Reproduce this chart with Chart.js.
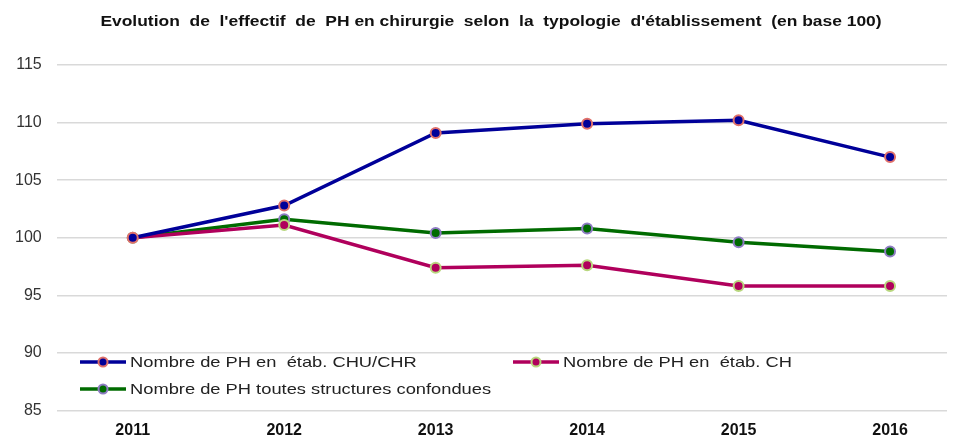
<!DOCTYPE html>
<html>
<head>
<meta charset="utf-8">
<script src="https://cdn.jsdelivr.net/npm/chart.js@4.4.0/dist/chart.umd.min.js"></script>
<style>
  html, body { margin: 0; padding: 0; background: #fff; }
  #wrap { width: 954px; height: 435px; position: relative; }
</style>
</head>
<body>
<div id="wrap"><canvas id="graficoPH"></canvas></div>
<script>
// données (base 100 en 2011)
const annees   = [2011, 2012, 2013, 2014, 2015, 2016];
const chuChr   = [100, 102.8, 109.1, 109.9, 110.2, 107.0];
const ch       = [100, 101.1, 97.4, 97.6, 95.8, 95.8];
const toutes   = [100, 101.6, 100.4, 100.8, 99.6, 98.8];
const yTicks   = [85, 90, 95, 100, 105, 110, 115];

const titre = "Evolution  de  l'effectif  de  PH en chirurgie  selon  la  typologie  d'établissement  (en base 100)";
const POLICE = '"Liberation Sans", Arial, sans-serif';
const ETIRE = 1.22; // le texte du modèle est étiré horizontalement

function serie(vals) {
    return vals.map((v, i) => ({ x: annees[i], y: v }));
}

// titre + légende dessinés à la main (texte étiré)
const textesEtires = {
    id: 'textesEtires',
    afterDatasetsDraw(chart) {
        const ctx = chart.ctx;

        // titre
        ctx.save();
        ctx.font = 'bold 14px ' + POLICE;
        ctx.fillStyle = '#111';
        ctx.textBaseline = 'middle';
        const w = ctx.measureText(titre).width * 1.245;
        ctx.translate(491 - w / 2, 22);
        ctx.scale(1.245, 1);
        ctx.fillText(titre, 0, 0);
        ctx.restore();

        // légende
        const pos = [
            { x: 80,  y: 362 },
            { x: 513, y: 362 },
            { x: 80,  y: 389 }
        ];
        chart.data.datasets.forEach((ds, i) => {
            const p = pos[i];
            ctx.save();
            ctx.strokeStyle = ds.borderColor;
            ctx.lineWidth = 3.5;
            ctx.beginPath();
            ctx.moveTo(p.x, p.y);
            ctx.lineTo(p.x + 46, p.y);
            ctx.stroke();
            ctx.beginPath();
            ctx.arc(p.x + 23, p.y, 4.5, 0, Math.PI * 2);
            ctx.fillStyle = ds.pointBackgroundColor;
            ctx.fill();
            ctx.lineWidth = 2;
            ctx.strokeStyle = ds.pointBorderColor;
            ctx.stroke();
            ctx.fillStyle = '#222';
            ctx.font = '15px ' + POLICE;
            ctx.textBaseline = 'middle';
            ctx.translate(p.x + 50, p.y + 1);
            ctx.scale(ETIRE, 1);
            ctx.fillText(ds.label, 0, 0);
            ctx.restore();
        });
    }
};

function dibujar() {
    const ctx = document.getElementById('graficoPH').getContext('2d');
    const base = {
        borderWidth: 3.5,
        pointRadius: 5,
        pointHoverRadius: 5,
        pointBorderWidth: 2,
        tension: 0,
        fill: false
    };

    new Chart(ctx, {
        type: 'line',
        data: {
            datasets: [
                Object.assign({
                    label: 'Nombre de PH en  étab. CHU/CHR',
                    data: serie(chuChr),
                    borderColor: '#000099',
                    pointBackgroundColor: '#000099',
                    pointBorderColor: '#e0706a'
                }, base),
                Object.assign({
                    label: 'Nombre de PH en  étab. CH',
                    data: serie(ch),
                    borderColor: '#b0005c',
                    pointBackgroundColor: '#b0005c',
                    pointBorderColor: '#b8d77e'
                }, base),
                Object.assign({
                    label: 'Nombre de PH toutes structures confondues',
                    data: serie(toutes),
                    borderColor: '#006b00',
                    pointBackgroundColor: '#006b00',
                    pointBorderColor: '#8e7cc3'
                }, base)
            ]
        },
        options: {
            responsive: true,
            maintainAspectRatio: false,
            animation: false,
            layout: { padding: { top: 65, right: 0, left: 0, bottom: -17 } },
            plugins: {
                legend: { display: false },
                tooltip: { enabled: false },
                title: { display: false }
            },
            scales: {
                x: {
                    type: 'linear',
                    min: 2010.498,
                    max: 2016.376,
                    afterBuildTicks: axis => { axis.ticks = annees.map(a => ({ value: a })); },
                    grid: { display: false, drawTicks: false },
                    border: { display: false },
                    ticks: {
                        color: '#111',
                        padding: 11,
                        font: { size: 16, weight: 'bold', family: POLICE },
                        callback: v => String(v)
                    }
                },
                y: {
                    min: 85,
                    max: 115,
                    afterBuildTicks: axis => { axis.ticks = yTicks.map(t => ({ value: t })); },
                    grid: { color: '#d9d9d9', lineWidth: 1.5, drawTicks: false },
                    border: { display: false },
                    ticks: {
                        color: '#333',
                        padding: 15,
                        font: { size: 16, family: POLICE }
                    }
                }
            }
        },
        plugins: [textesEtires]
    });
}

dibujar();
</script>
</body>
</html>
